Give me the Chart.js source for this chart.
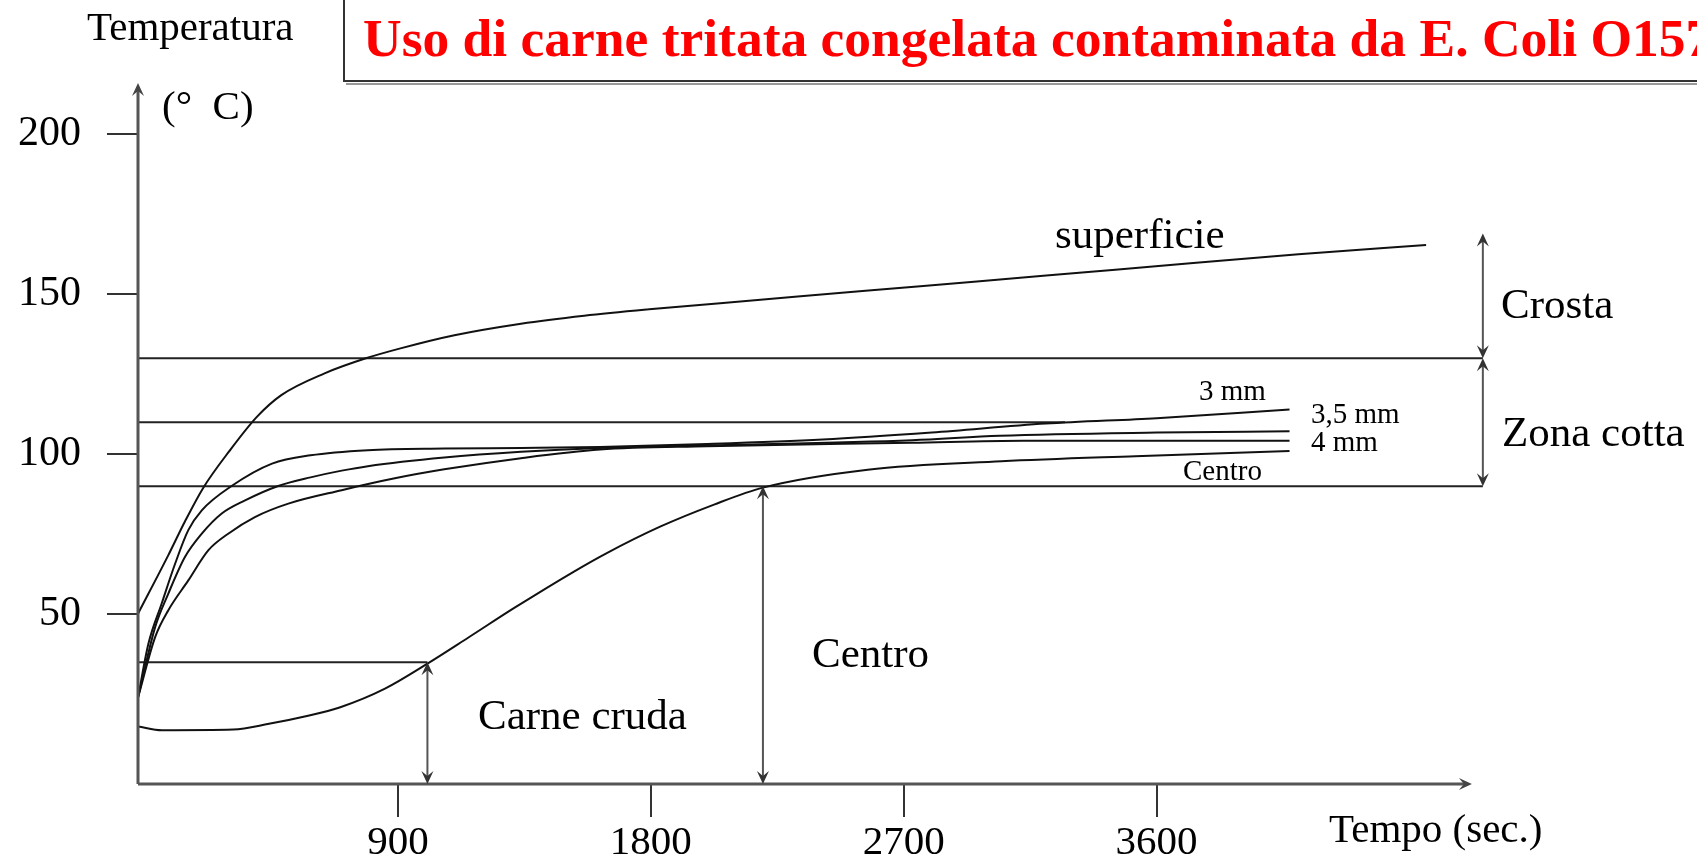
<!DOCTYPE html>
<html><head><meta charset="utf-8">
<script src="https://cdn.jsdelivr.net/npm/chart.js@4/dist/chart.umd.min.js"></script>
<style>html,body{margin:0;padding:0;background:#fff;overflow:hidden}canvas{display:block}</style>
</head><body>
<canvas id="c" width="1697" height="862"></canvas>
<script>
// ---- data (time in seconds, temperature in °C) ----
const xTicks = [900, 1800, 2700, 3600];
const yTicks = [50, 100, 150, 200];

const superficieTime = [-25, 83, 142, 207, 300, 398, 485, 639, 786, 909, 1101, 1338, 1563, 1794, 2180, 2564, 2950, 3335, 3720, 4105, 4559];
const superficieTemp = [50.2, 68.5, 79, 89.5, 101, 111.7, 118.5, 125.3, 130, 133.1, 137.2, 140.8, 143.3, 145.3, 148.2, 151.1, 153.9, 156.8, 159.7, 162.5, 165.4];

const mm3Time = [-25, 12, 59, 107, 154, 202, 308, 452, 589, 793, 1065, 1338, 1619, 2000, 2412, 2800, 3205, 3600, 4073];
const mm3Temp = [24, 40.8, 53.3, 65.8, 76.3, 82.5, 90.1, 97.1, 99.7, 101.3, 101.8, 102, 102.3, 103.2, 104.6, 106.8, 109.6, 111.3, 114];

const mm35Time = [-25, 36, 83, 142, 202, 273, 356, 474, 589, 700, 793, 1065, 1338, 1619, 2000, 2730, 3042, 3600, 4073];
const mm35Temp = [24, 46, 56.5, 67.9, 75.2, 81.5, 85.6, 90.1, 92.8, 94.9, 96.3, 99, 100.8, 102, 102.8, 104.4, 105.8, 106.8, 107.2];

const mm4Time = [-25, 36, 83, 154, 225, 296, 391, 510, 700, 889, 1065, 1338, 1619, 2000, 2730, 3127, 3600, 4073];
const mm4Temp = [24, 42.9, 51.3, 60.6, 70, 75.2, 80.4, 84.6, 88.8, 92.5, 95.3, 98.8, 101.5, 102.5, 103.6, 104.2, 104.2, 104.2];

const centroTime = [-25, 60, 314, 441, 568, 695, 854, 1005, 1155, 1314, 1525, 1640, 1833, 2025, 2199, 2572, 3048, 3524, 4073];
const centroTemp = [15, 13.8, 14, 15.8, 18.1, 21, 26.8, 34.6, 43, 52, 63.3, 69, 77.4, 84.3, 89.6, 95.2, 97.8, 99.4, 101];

// reference (zone) lines: temperature and end time
const refLineTemp = [130, 110, 90, 35];
const refLineEnd = [4761, 3274, 4761, 1005];

// double arrows: time, from temp, to temp
const arrowTime = [1005, 2199, 4761, 4761];
const arrowFrom = [35, 90, 169, 130];
const arrowTo = [-3, -3, 130, 90];

const xMin = -25, xMax = 4790, yMin = -3, yMax = 216, xAxisTip = 4722;

// ---- build datasets ----
const pts = (xs, ys) => xs.map((x, i) => ({x, y: ys[i]}));
const curve = (label, xs, ys) => ({label, data: pts(xs, ys), borderColor: '#111', borderWidth: 2, pointRadius: 0, cubicInterpolationMode: 'monotone', fill: false});
const datasets = [
  curve('superficie', superficieTime, superficieTemp),
  curve('3 mm', mm3Time, mm3Temp),
  curve('3,5 mm', mm35Time, mm35Temp),
  curve('4 mm', mm4Time, mm4Temp),
  curve('Centro', centroTime, centroTemp)
];
refLineTemp.forEach((t, i) => datasets.push({label: 'ref' + t, data: [{x: xMin, y: t}, {x: refLineEnd[i], y: t}], borderColor: '#222', borderWidth: 2, pointRadius: 0, tension: 0}));

const SERIF = '"Liberation Serif", "Times New Roman", serif';

function head(ctx, x, y, dir) {
  ctx.save();
  ctx.translate(x, y);
  ctx.rotate(dir);
  ctx.beginPath();
  ctx.moveTo(0, 0);
  ctx.lineTo(-6, 13);
  ctx.lineTo(0, 8);
  ctx.lineTo(6, 13);
  ctx.closePath();
  ctx.fill();
  ctx.restore();
}

const deco = {
  id: 'deco',
  afterDatasetsDraw(chart) {
    const {ctx, scales: {x, y}, chartArea: a} = chart;
    ctx.save();
    // axes
    ctx.strokeStyle = '#555'; ctx.fillStyle = '#444'; ctx.lineWidth = 3;
    ctx.beginPath(); ctx.moveTo(a.left, a.bottom); ctx.lineTo(a.left, a.top + 4); ctx.stroke();
    head(ctx, a.left, a.top, 0);
    const tip = x.getPixelForValue(xAxisTip);
    ctx.beginPath(); ctx.moveTo(a.left, a.bottom); ctx.lineTo(tip - 4, a.bottom); ctx.stroke();
    head(ctx, tip, a.bottom, Math.PI / 2);
    // double arrows
    ctx.strokeStyle = '#555'; ctx.fillStyle = '#333'; ctx.lineWidth = 2;
    arrowTime.forEach((t, i) => {
      const px = x.getPixelForValue(t);
      const y1 = y.getPixelForValue(arrowFrom[i]);
      const y2 = y.getPixelForValue(arrowTo[i]);
      ctx.beginPath(); ctx.moveTo(px, y1 + 3); ctx.lineTo(px, y2 - 3); ctx.stroke();
      head(ctx, px, y1, 0);
      head(ctx, px, y2, Math.PI);
    });
    // texts
    ctx.fillStyle = '#000';
    ctx.textBaseline = 'alphabetic';
    ctx.textAlign = 'left';
    const txt = (s, px, py, size) => { ctx.font = size + 'px ' + SERIF; ctx.fillText(s, px, py); };
    txt('Temperatura', 87, 40, 41);
    txt('(°  C)', 162, 119, 41);
    txt('Tempo (sec.)', 1329, 842, 41);
    txt('superficie', 1055, 248, 43);
    txt('Crosta', 1501, 318, 43);
    txt('Zona cotta', 1502, 446, 43);
    txt('Centro', 812, 667, 43);
    txt('Carne cruda', 478, 729, 43);
    txt('3 mm', 1199, 400, 29);
    txt('3,5 mm', 1311, 423, 29);
    txt('4 mm', 1311, 451, 29);
    txt('Centro', 1183, 480, 29);
    // title box
    ctx.fillStyle = '#fff';
    ctx.fillRect(344, -5, 1400, 86);
    ctx.strokeStyle = '#999'; ctx.lineWidth = 2;
    ctx.beginPath(); ctx.moveTo(346, 84); ctx.lineTo(1700, 84); ctx.stroke();
    ctx.strokeStyle = '#333'; ctx.lineWidth = 2;
    ctx.strokeRect(344, -5, 1400, 86);
    ctx.fillStyle = '#ff0000';
    ctx.font = 'bold 53.5px ' + SERIF;
    ctx.fillText('Uso di carne tritata congelata contaminata da E. Coli O157', 363, 56);
    ctx.restore();
  }
};

new Chart(document.getElementById('c'), {
  type: 'line',
  data: {datasets},
  options: {
    responsive: false,
    animation: false,
    layout: {padding: {left: 0, top: 83, right: 206, bottom: 0}},
    plugins: {legend: {display: false}, tooltip: {enabled: false}, title: {display: false}},
    scales: {
      x: {
        type: 'linear', min: xMin, max: xMax,
        afterBuildTicks: ax => { ax.ticks = xTicks.map(v => ({value: v})); },
        afterFit: s => { s.height = 78; },
        grid: {drawOnChartArea: false, drawTicks: true, tickLength: 33, tickColor: '#333', lineWidth: 2},
        border: {display: false},
        ticks: {padding: 2, color: '#000', font: {family: SERIF, size: 41}, maxRotation: 0, autoSkip: false, callback: v => String(v)}
      },
      y: {
        type: 'linear', min: yMin, max: yMax,
        afterBuildTicks: ax => { ax.ticks = yTicks.map(v => ({value: v})); },
        afterFit: s => { s.width = 138; },
        grid: {drawOnChartArea: false, drawTicks: true, tickLength: 31, tickColor: '#333', lineWidth: 2},
        border: {display: false},
        ticks: {padding: 26, color: '#000', font: {family: SERIF, size: 42}, autoSkip: false, callback: v => String(v)}
      }
    }
  },
  plugins: [deco]
});
</script>
</body></html>
